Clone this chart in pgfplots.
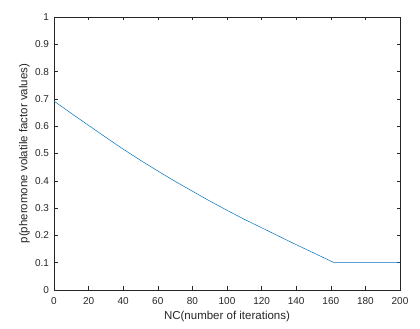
\documentclass[border=0pt]{standalone}
\usepackage{fontspec}
\setmainfont{Liberation Sans}
\usepackage{pgfplots}
\pgfplotsset{compat=1.18}
\definecolor{mlblue}{rgb}{0,0.447,0.741}
\definecolor{axgray}{rgb}{0.15,0.15,0.15}

\begin{document}
\begin{tikzpicture}
\begin{axis}[
  scale only axis,
  width=346pt, height=273pt,
  xmin=0, xmax=200, ymin=0, ymax=1,
  xtick={0,20,...,200},
  ytick={0,0.1,...,1.0},
  tick align=inside,
  major tick length=3.5pt,
  axis line style={axgray, line width=0.5pt},
  tick style={axgray, line width=0.5pt},
  ticklabel style={font=\fontsize{10}{11}\selectfont, text=axgray},
  /pgf/number format/assume math mode=true,
  yticklabel style={/pgf/number format/fixed, xshift=-1.5pt},
  xticklabel style={yshift=-4pt},
  xlabel={NC(number of iterations)},
  ylabel={p(pheromone volatile factor values)},
  label style={font=\fontsize{11.5}{13}\selectfont, text=axgray},
  xlabel style={at={(axis description cs:0.5,-0.0971)}, anchor=center},
  ylabel style={at={(axis description cs:-0.0853,0.5)}, anchor=center},
]
\addplot[mlblue, line width=0.5pt] coordinates {
  (0,0.692) (10,0.647) (20,0.603) (30,0.559) (40,0.516) (50,0.475)
  (60,0.436) (70,0.398) (80,0.362) (90,0.326) (100,0.292) (110,0.259)
  (120,0.228) (130,0.197) (140,0.166) (150,0.136) (162,0.100) (200,0.100)
};
\end{axis}
\pgfresetboundingbox
\path (-54pt,-39pt) rectangle (366pt,290pt);
\end{tikzpicture}
\end{document}
